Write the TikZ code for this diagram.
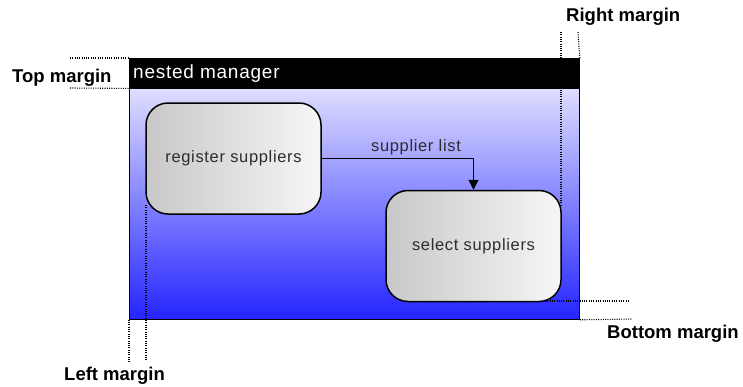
\documentclass[tikz,border=0pt]{standalone}
\usepackage{fontspec}
\setmainfont{Liberation Sans}
\newfontfamily\spacedsans[LetterSpace=4]{Liberation Sans}
\usetikzlibrary{arrows.meta}
\definecolor{topfill}{RGB}{246,246,255}
\definecolor{botfill}{RGB}{36,36,255}
\definecolor{boxdark}{RGB}{200,200,200}
\definecolor{boxlight}{RGB}{246,246,246}
\definecolor{boxtext}{RGB}{45,45,45}
\tikzset{
  mainbox/.style={draw=black, line width=0.8pt, top color=topfill, bottom color=botfill,
    anchor=north west, minimum width=450pt, minimum height=261pt, inner sep=0pt},
  headerbar/.style={fill=black, draw=black, anchor=north west, minimum width=450pt,
    minimum height=30pt, inner sep=0pt},
  process/.style={draw=black, line width=1.5pt, rounded corners=22pt, left color=boxdark,
    right color=boxlight, minimum width=175pt, minimum height=111pt, inner sep=0pt,
    text=boxtext, font=\spacedsans\fontsize{16.5}{19}\selectfont},
  flow/.style={draw=black, line width=1.2pt, -{Triangle[length=10pt,width=10pt]}},
  guide/.style={draw=black, line width=1.1pt, dash pattern=on 1pt off 1.3pt},
  marginlabel/.style={font=\fontsize{18.5}{21}\selectfont\bfseries, inner sep=0pt, anchor=base west}
}
\begin{document}
\begin{tikzpicture}[x=1pt, y=-1pt]
  \useasboundingbox (0,0) rectangle (743,386);

  % container with its title bar
  \node[mainbox] (mgr) at (129,58) {};
  \node[headerbar] (hdr) at (129,58) {};
  \node[anchor=west, text=white, inner sep=0pt, font=\spacedsans\fontsize{19}{21}\selectfont] (title) at (133,74) {nested manager};

  % process steps
  \node[process] (reg) at (233.5,158.5) {register suppliers};
  \node[process] (sel) at (473.5,246) {select suppliers};

  % data flow between the steps
  \draw[flow] (reg.east) -| (sel.north);
  \node[text=boxtext, font=\spacedsans\fontsize{16.5}{19}\selectfont, inner sep=0pt] (flowlabel) at (416,147) {supplier list};

  % guide end points
  \coordinate (tA) at (70,58);
  \coordinate (tB) at (70,88);
  \coordinate (rA) at (561,32);
  \coordinate (rA2) at (561,205);
  \coordinate (rB) at (578,32);
  \coordinate (bA) at (545,301);
  \coordinate (bA2) at (630,301);
  \coordinate (bB) at (632,319);
  \coordinate (lA) at (129,362);
  \coordinate (lB) at (146,360);
  \coordinate (lB2) at (146,205);

  % margin guides
  \draw[guide] (tA) -- (mgr.north west);
  \draw[guide] (tB) -- (hdr.south west);
  \draw[guide] (rA) -- (rA2);
  \draw[guide] (rB) -- (mgr.north east);
  \draw[guide] (bA) -- (bA2);
  \draw[guide] (mgr.south east) -- (bB);
  \draw[guide] (mgr.south west) -- (lA);
  \draw[guide] (lB2) -- (lB);

  % margin labels
  \node[marginlabel] (ltop) at (12,82) {Top margin};
  \node[marginlabel] (lright) at (566,21) {Right margin};
  \node[marginlabel] (lbottom) at (607,338) {Bottom margin};
  \node[marginlabel] (lleft) at (64,380) {Left margin};
\end{tikzpicture}
\end{document}
